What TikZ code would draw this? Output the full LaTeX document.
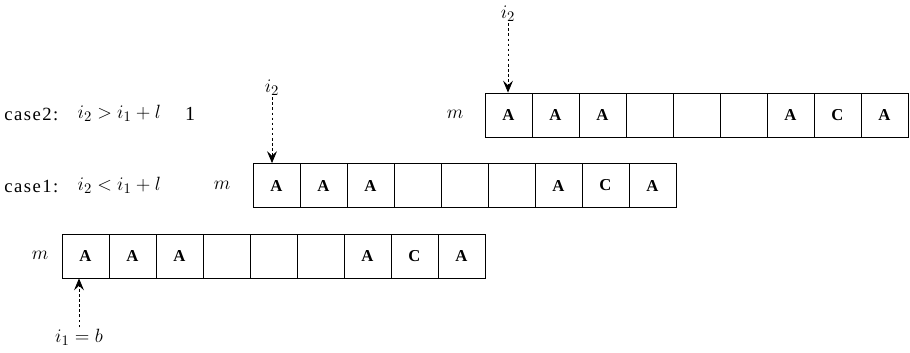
\documentclass[tikz,border=0pt]{standalone}
\usepackage{fontspec}
\setmainfont{Liberation Serif}
\usetikzlibrary{positioning}
\usetikzlibrary{arrows.meta}
\usetikzlibrary{calc}

\begin{document}
\begin{tikzpicture}
  [ x=0.75pt, y=-0.75pt,
    cell/.style={draw=black, line width=0.6pt, minimum width=35.25pt,
    minimum height=33pt, inner sep=0pt, font=\fontsize{12.5}{14}\selectfont\bfseries},
    lbl/.style={font=\fontsize{15}{17}\selectfont, inner sep=1pt},
    cs/.style={font=\fontsize{14}{16}\selectfont\addfontfeature{LetterSpace=8}, anchor=west, inner sep=0pt},
    ptr/.style={dash pattern=on 2pt off 1.8pt, line width=0.6pt,
    -{Stealth[length=9pt, width=7.5pt, inset=3.5pt]}}
  ]
  \useasboundingbox (0,0) rectangle (910,353);

  % bottom row
  \foreach \t [count=\k] in {A,A,A,{},{},{},A,C,A}
    \node (b\k) at ({85.5+(\k-1)*47}, 256) [cell] {\t};
  \node (mb) at (40,255) [lbl] {$m$};
  \node (i1) at (79,337) [lbl] {$i_1=b$};
  \draw [ptr] (i1.north) -- (i1.north |- b1.south);

  % middle row
  \foreach \t [count=\k] in {A,A,A,{},{},{},A,C,A}
    \node (c\k) at ({276.5+(\k-1)*47}, 185.5) [cell] {\t};
  \node (mc) at (222,185) [lbl] {$m$};
  \node (ic) at (272,88) [lbl] {$i_2$};
  \draw [ptr] (ic.south) -- (ic.south |- c1.north);
  \node (case1) at (4,186) [cs] {case1:};
  \node (r1) at (76,185) [lbl, anchor=west] {$i_2 < i_1 + l$};

  % top row
  \foreach \t [count=\k] in {A,A,A,{},{},{},A,C,A}
    \node (d\k) at ({508.5+(\k-1)*47}, 115) [cell] {\t};
  \node (md) at (455,114) [lbl] {$m$};
  \node (id) at (508,14) [lbl] {$i_2$};
  \draw [ptr] (id.south) -- (id.south |- d1.north);
  \node (case2) at (4,114) [cs] {case2:};
  \node (r2) at (76,113) [lbl, anchor=west] {$i_2 > i_1 + l$};
  \node (one) at (190,114) [lbl] {1};
\end{tikzpicture}
\end{document}
